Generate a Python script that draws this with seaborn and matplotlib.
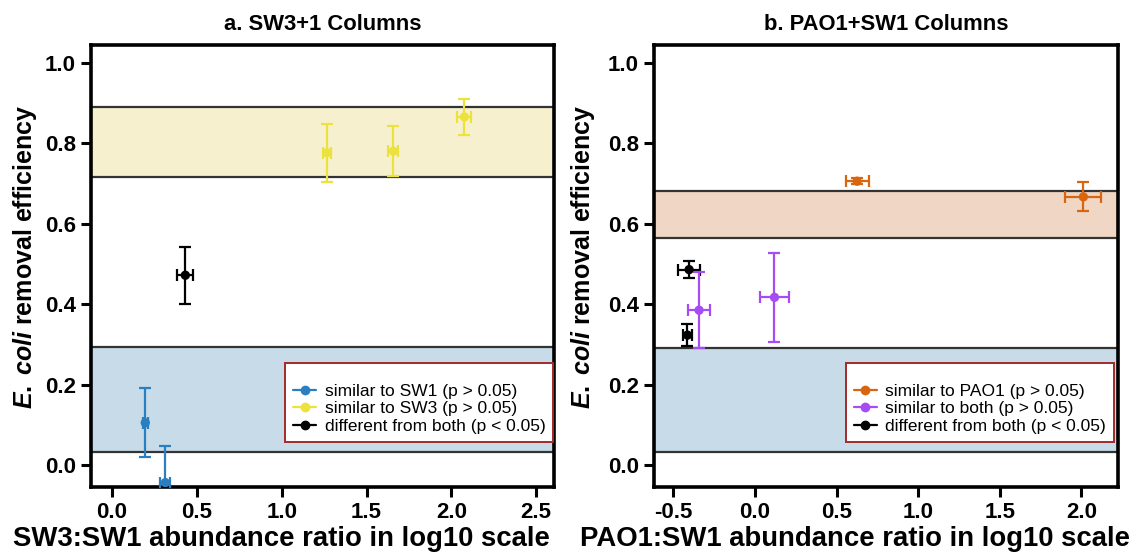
import numpy as np
import pandas as pd
import matplotlib
matplotlib.use("Agg")
import matplotlib.pyplot as plt
from matplotlib.lines import Line2D
import seaborn as sns

# ---------------- data ----------------
a_x = [0.196, 0.314, 1.266, 1.658, 2.077, 0.432]
a_y = [0.105, -0.044, 0.777, 0.781, 0.866, 0.472]
a_xerr = [0.015, 0.03, 0.025, 0.03, 0.041, 0.047]
a_yerr = [0.086, 0.091, 0.072, 0.062, 0.044, 0.071]
a_group = ["similar to SW1 (p > 0.05)", "similar to SW1 (p > 0.05)",
           "similar to SW3 (p > 0.05)", "similar to SW3 (p > 0.05)",
           "similar to SW3 (p > 0.05)", "different from both (p < 0.05)"]
a_bands = [(0.716, 0.890), (0.031, 0.294)]

b_x = [0.626, 2.012, -0.403, -0.413, -0.342, 0.120]
b_y = [0.706, 0.667, 0.486, 0.323, 0.385, 0.417]
b_xerr = [0.07, 0.11, 0.067, 0.025, 0.066, 0.09]
b_yerr = [0.007, 0.036, 0.022, 0.028, 0.095, 0.111]
b_group = ["similar to PAO1 (p > 0.05)", "similar to PAO1 (p > 0.05)",
           "different from both (p < 0.05)", "different from both (p < 0.05)",
           "similar to both (p > 0.05)", "similar to both (p > 0.05)"]
b_bands = [(0.565, 0.681), (0.031, 0.291)]

a_order = ["similar to SW1 (p > 0.05)", "similar to SW3 (p > 0.05)", "different from both (p < 0.05)"]
b_order = ["similar to PAO1 (p > 0.05)", "similar to both (p > 0.05)", "different from both (p < 0.05)"]

# ---------------- style ----------------
sns.set_theme(style="white")
plt.rcParams['font.family'] = ['Liberation Sans', 'DejaVu Sans']
plt.rcParams['mathtext.fontset'] = 'custom'
plt.rcParams['mathtext.it'] = 'Liberation Sans:italic:bold'
plt.rcParams['mathtext.rm'] = 'Liberation Sans:bold'
for k in ['text.color', 'axes.labelcolor', 'xtick.color', 'ytick.color', 'axes.edgecolor']:
    plt.rcParams[k] = 'black'

a_pal = {a_order[0]: "#2a7fc0", a_order[1]: "#ece23e", a_order[2]: "#000000"}
b_pal = {b_order[0]: "#d9650f", b_order[1]: "#a64cf2", b_order[2]: "#000000"}
a_band_cols = ["#f7f0cf", "#c7dbe8"]
b_band_cols = ["#f0d6c4", "#c7dbe8"]

fig = plt.figure(figsize=(11.35, 5.53), dpi=100)
ax1 = fig.add_axes([91/1135, 1-487/553, 463/1135, 442/553])
ax2 = fig.add_axes([654/1135, 1-487/553, 464/1135, 442/553])


def draw(ax, xs, ys, xerr, yerr, groups, order, pal, bands, band_cols,
         xlim, xticks, title, xlabel, leg_anchor, xlab_x, ylab_x):
    df = pd.DataFrame({"x": xs, "y": ys, "xerr": xerr, "yerr": yerr, "group": groups})
    for (lo, hi), c in zip(bands, band_cols):
        ax.axhspan(lo, hi, color=c, lw=0, zorder=0)
        ax.axhline(lo, color="#333333", lw=1.6, zorder=1)
        ax.axhline(hi, color="#333333", lw=1.6, zorder=1)
    for _, r in df.iterrows():
        ax.errorbar(r["x"], r["y"], xerr=r["xerr"], yerr=r["yerr"], fmt="none",
                    ecolor=pal[r["group"]], elinewidth=1.6, capsize=4, capthick=1.6,
                    zorder=3)
    sns.scatterplot(data=df, x="x", y="y", hue="group", hue_order=order,
                    palette=pal, s=45, edgecolor="none", legend=False, ax=ax, zorder=4)
    ax.set_xlim(*xlim)
    ax.set_ylim(-0.055, 1.045)
    ax.set_xticks(xticks)
    ax.set_xticklabels([f"{t:.1f}" for t in xticks])
    ax.set_yticks([0.0, 0.2, 0.4, 0.6, 0.8, 1.0])
    ax.set_yticklabels([f"{t:.1f}" for t in [0.0, 0.2, 0.4, 0.6, 0.8, 1.0]])
    for lab in ax.get_xticklabels() + ax.get_yticklabels():
        lab.set_fontweight("bold")
        lab.set_fontsize(16)
    ax.tick_params(axis="both", direction="out", length=7, width=2.2, color="black",
                   labelcolor="black", bottom=True, left=True, pad=4)
    for s in ax.spines.values():
        s.set_linewidth(2.6)
        s.set_color("black")
    ax.set_title(title, fontsize=15.8, fontweight="bold", pad=11)
    ax.set_xlabel(xlabel, fontsize=19.8, fontweight="bold", va="baseline")
    ax.xaxis.set_label_coords(xlab_x, (487 - 546) / 442)
    ax.set_ylabel(r"$\mathit{E.\;coli}$ removal efficiency", fontsize=18,
                  fontweight="bold", va="center")
    ax.yaxis.set_label_coords(ylab_x, (487 - 257) / 442)
    handles = [Line2D([0], [0], color=pal[g], marker="o", markersize=6, lw=1.6)
               for g in order]
    leg = ax.legend(handles, order, loc="lower right", bbox_to_anchor=leg_anchor,
                    borderaxespad=0, frameon=True, fancybox=False, fontsize=12.5,
                    handlelength=1.3, handletextpad=0.5, labelspacing=0.15,
                    title=" ", title_fontsize=8, borderpad=0.45)
    fr = leg.get_frame()
    fr.set_edgecolor("#a42a2a")
    fr.set_linewidth(1.4)
    fr.set_facecolor("white")
    fr.set_alpha(1)
    leg.set_zorder(5)


draw(ax1, a_x, a_y, a_xerr, a_yerr, a_group, a_order, a_pal, a_bands, a_band_cols,
     (-0.124, 2.605), [0.0, 0.5, 1.0, 1.5, 2.0, 2.5], "a. SW3+1 Columns",
     "SW3:SW1 abundance ratio in log10 scale", (0.998, 0.102),
     (281 - 91) / 463, (25 - 91) / 463)
draw(ax2, b_x, b_y, b_xerr, b_yerr, b_group, b_order, b_pal, b_bands, b_band_cols,
     (-0.618, 2.224), [-0.5, 0.0, 0.5, 1.0, 1.5, 2.0], "b. PAO1+SW1 Columns",
     "PAO1:SW1 abundance ratio in log10 scale", (0.991, 0.102),
     (855 - 654) / 464, (583 - 654) / 464)

fig.savefig("out.png", dpi=100)
